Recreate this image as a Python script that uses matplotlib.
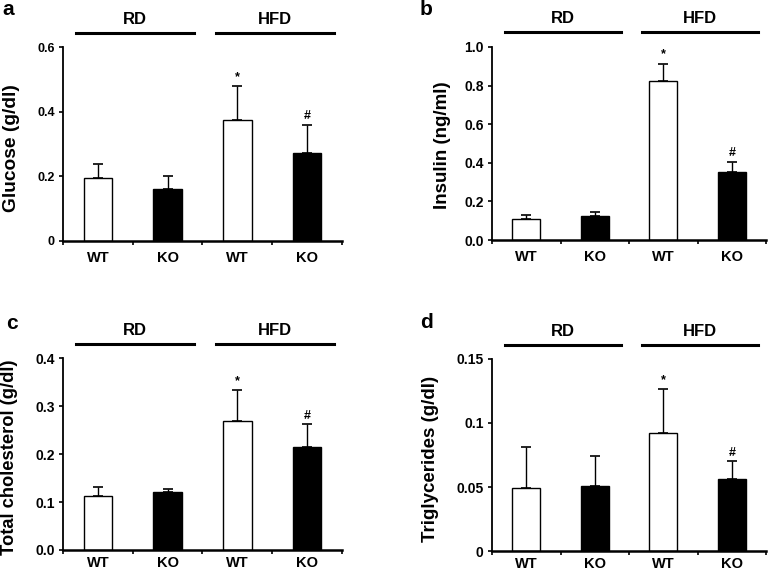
import matplotlib.pyplot as plt

plt.rcParams['font.family'] = ['Liberation Sans', 'DejaVu Sans']
plt.rcParams['font.weight'] = 'bold'

groups = ['WT', 'KO', 'WT', 'KO']
diets = ['RD', 'HFD']

glucose = [0.196, 0.162, 0.375, 0.273]
glucose_err = [0.043, 0.040, 0.106, 0.086]

insulin = [0.109, 0.126, 0.822, 0.352]
insulin_err = [0.022, 0.017, 0.092, 0.051]

cholesterol = [0.113, 0.120, 0.270, 0.214]
cholesterol_err = [0.019, 0.008, 0.063, 0.048]

triglycerides = [0.049, 0.0505, 0.0924, 0.056]
triglycerides_err = [0.032, 0.024, 0.034, 0.014]

panels = [
    ('a', glucose, glucose_err, 'Glucose (g/dl)', [0, 0.2, 0.4, 0.6], ['0', '0.2', '0.4', '0.6']),
    ('b', insulin, insulin_err, 'Insulin (ng/ml)', [0, 0.2, 0.4, 0.6, 0.8, 1.0],
     ['0.0', '0.2', '0.4', '0.6', '0.8', '1.0']),
    ('c', cholesterol, cholesterol_err, 'Total cholesterol (g/dl)', [0, 0.1, 0.2, 0.3, 0.4],
     ['0.0', '0.1', '0.2', '0.3', '0.4']),
    ('d', triglycerides, triglycerides_err, 'Triglycerides (g/dl)', [0, 0.05, 0.1, 0.15],
     ['0', '0.05', '0.1', '0.15']),
]

boxes = [
    [0.0818, 0.5787, 0.3622, 0.3386],
    [0.639, 0.5804, 0.356, 0.3376],
    [0.0818, 0.0385, 0.3622, 0.3351],
    [0.639, 0.0367, 0.356, 0.3357],
]
letter_pos = [(0.003, 0.983), (0.545, 0.983), (0.008, 0.435), (0.545, 0.437)]
tick_sizes = [9, 10, 10, 10]
label_sizes = [13.8, 13.5, 13.2, 13.5]
label_xy = [(-0.186, 0.48), (-0.179, 0.49), (-0.19, 0.485), (-0.226, 0.48)]
xpads = [7, 7, 4, 4]

fig = plt.figure(figsize=(7.7, 5.72), dpi=100)

for k, ((letter, vals, errs, ylabel, yt, ytl), box) in enumerate(zip(panels, boxes)):
    ax = fig.add_axes(box)
    x = range(len(vals))
    colors = ['white', 'black', 'white', 'black']
    ax.bar(x, vals, width=0.41, color=colors, edgecolor='black', linewidth=1.0, zorder=2)
    ax.errorbar(x, vals, yerr=[[0] * 4, errs], fmt='none', ecolor='black',
                elinewidth=1.0, capsize=3.5, capthick=1.2, zorder=1)
    ymax = yt[-1]
    ax.set_xlim(-0.5, 3.5)
    ax.set_ylim(0, ymax)
    ax.set_yticks(yt)
    ax.set_yticklabels(ytl, fontsize=tick_sizes[k])
    ax.set_xticks([-0.5, 0.5, 1.5, 2.5, 3.5])
    ax.set_xticklabels([])
    ax.set_xticks(list(x), minor=True)
    ax.set_xticklabels(groups, minor=True, fontsize=10.5)
    ax.tick_params(axis='x', which='major', length=3, width=1.2, direction='out')
    ax.tick_params(axis='x', which='minor', length=0, pad=xpads[k])
    ax.tick_params(axis='y', length=3, width=1.2, direction='out', pad=3)
    for s in ['top', 'right']:
        ax.spines[s].set_visible(False)
    ax.spines['left'].set_linewidth(1.3)
    ax.spines['bottom'].set_linewidth(1.8)
    ax.set_ylabel(ylabel, fontsize=label_sizes[k], fontweight='bold', va='center')
    ax.yaxis.set_label_coords(*label_xy[k])

    # significance marks
    ax.text(2, vals[2] + errs[2] + ymax * 0.015, '*', ha='center', va='bottom', fontsize=9)
    ax.text(3, vals[3] + errs[3] + ymax * 0.015, '#', ha='center', va='bottom', fontsize=9)

    # diet group bars
    for i, d in enumerate(diets):
        x0 = 2 * i - 0.31
        x1 = 2 * i + 1.38
        ax.plot([x0, x1], [1.075, 1.075], color='black', lw=2.2,
                transform=ax.get_xaxis_transform(), clip_on=False)
        ax.text((x0 + x1) / 2, 1.145, d, ha='center', va='center', fontsize=12,
                transform=ax.get_xaxis_transform())

    fig.text(letter_pos[k][0], letter_pos[k][1], letter,
             fontsize=15, fontweight='bold', va='center', ha='left')

fig.savefig('out.png', dpi=100)
